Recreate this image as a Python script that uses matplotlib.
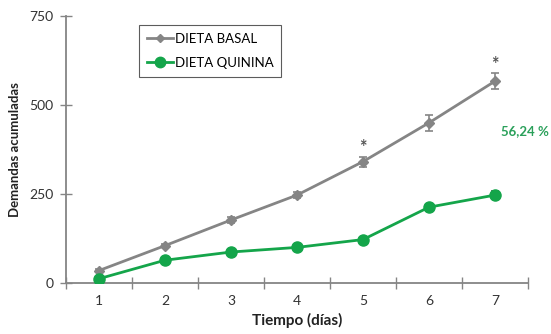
import matplotlib
matplotlib.use("Agg")
import matplotlib.pyplot as plt
from matplotlib.ticker import FixedLocator
from matplotlib.lines import Line2D

plt.rcParams['font.family'] = ['Lato', 'DejaVu Sans']

days = [1, 2, 3, 4, 5, 6, 7]
basal = [35, 105, 177, 247, 341, 450, 567]
basal_err = [4, 5, 8, 9, 14, 22, 22]
quinina = [12, 64, 87, 100, 122, 213, 247]
quinina_err = [3, 4, 4, 4, 5, 10, 12]
signif_days = [5, 7]
reduction_label = "56,24 %"

gray = "#858585"
green = "#14a54a"

fig = plt.figure(figsize=(5.51, 3.34), dpi=100)
ax = fig.add_axes([0.1198, 0.1527, 0.8384, 0.7993])

ax.errorbar(days, basal, yerr=basal_err, color=gray, lw=2, marker='D', ms=5,
            capsize=3, elinewidth=1.2, capthick=1.2, zorder=3)
ax.errorbar(days, quinina, yerr=quinina_err, color=green, lw=2, marker='o', ms=8,
            capsize=3, elinewidth=1.2, capthick=1.2, ecolor="#555555", zorder=4)

for d in signif_days:
    i = days.index(d)
    ax.text(d, basal[i] + basal_err[i] + 2, "*", ha='center', va='bottom',
            fontsize=13, color="#555555", fontweight='bold')

fig.text(0.997, 0.608, reduction_label, ha='right', va='center',
         fontsize=9.5, color="#2aa05a", fontweight='bold')

ax.set_xlim(0.5, 7.5)
ax.set_ylim(0, 750)
ax.set_yticks([0, 250, 500, 750])
ax.xaxis.set_major_locator(FixedLocator([d - 0.5 for d in days] + [7.5]))
ax.xaxis.set_minor_locator(FixedLocator(days))
ax.set_xticklabels([])
ax.set_xticklabels([str(d) for d in days], minor=True)
ax.tick_params(axis='x', which='major', direction='inout', length=8, width=1, color=gray)
ax.tick_params(axis='x', which='minor', length=0, pad=9, labelsize=10, labelcolor="#333333")
ax.tick_params(axis='y', direction='inout', length=8, width=1, color=gray,
               labelsize=10, labelcolor="#333333", pad=5)

for s in ['top', 'right']:
    ax.spines[s].set_visible(False)
for s in ['left', 'bottom']:
    ax.spines[s].set_color(gray)
    ax.spines[s].set_linewidth(1.3)

ax.set_xlabel("Tiempo (días)", fontsize=11, fontweight='bold', color="#222222", labelpad=4)
ax.set_ylabel("Demandas acumuladas", fontsize=9.5, fontweight='bold', color="#222222")
ax.yaxis.set_label_coords(-0.097, 0.5)

handles = [Line2D([], [], color=gray, lw=2, marker='D', ms=4.5),
           Line2D([], [], color=green, lw=2, marker='o', ms=7.5)]
leg = ax.legend(handles, ["DIETA BASAL", "DIETA QUININA"], loc='upper left',
                bbox_to_anchor=(0.158, 0.966), borderaxespad=0, frameon=True, fancybox=False,
                edgecolor="#333333", fontsize=9.5, handlelength=2.0, handletextpad=0.1,
                borderpad=0.6, labelspacing=0.9)
leg.get_frame().set_linewidth(0.8)

fig.savefig("out.png", dpi=100)
